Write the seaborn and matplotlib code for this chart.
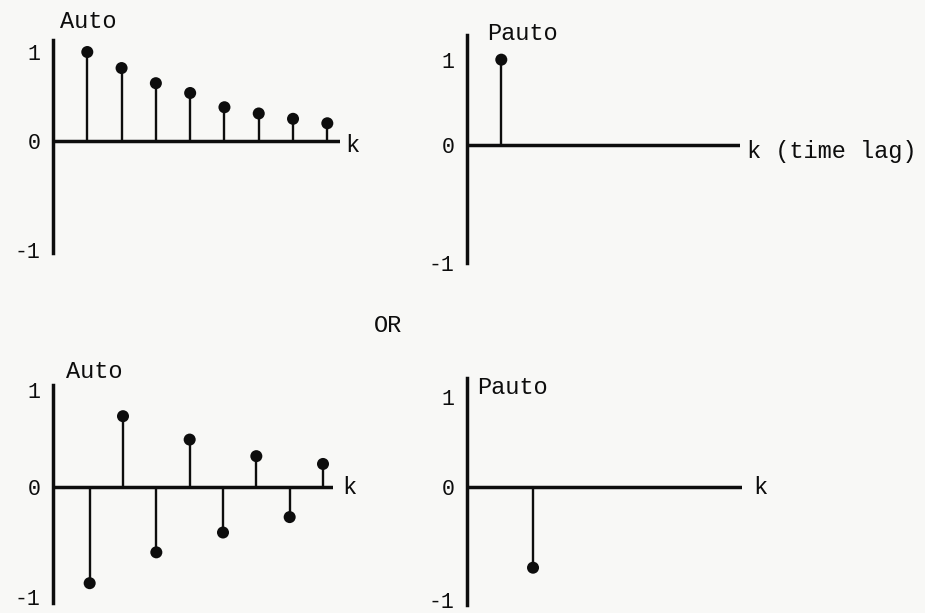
import numpy as np
import matplotlib.pyplot as plt
import seaborn as sns

# AR(1) with positive phi: ACF decays, PACF cuts off after lag 1
lags_acf = [1, 2, 3, 4, 5, 6, 7, 8]
acf_pos = [1.0, 0.82, 0.65, 0.54, 0.38, 0.31, 0.25, 0.20]
lags_pacf_pos = [1]
pacf_pos = [1.0]

# alternating case
acf_alt = [-0.87, 0.73, -0.59, 0.49, -0.41, 0.32, -0.27, 0.24]
lags_pacf_alt = [2]
pacf_alt = [-0.71]

yticks = [-1, 0, 1]
ytick_labels = ["-1", "0", "1"]

sns.set_theme(style="white")
plt.rcParams['font.family'] = ['Liberation Mono', 'DejaVu Sans Mono']

W, H = 925, 613
bg = "#f8f8f6"
fig = plt.figure(figsize=(W / 100, H / 100), dpi=100, facecolor=bg)


def px_axes(left, top, right, bottom):
    return fig.add_axes([left / W, 1 - bottom / H, (right - left) / W, (bottom - top) / H])


def px_text(x, y, s, **kw):
    fig.text(x / W, 1 - y / H, s, fontsize=17, color="#0d0d0d", va="center", **kw)


def stem_panel(ax, lags, vals, xlim, ylim, neg_ratio):
    # hand-drawn axes: the negative half is a bit longer than the positive one
    fwd = lambda y: np.where(y >= 0, y, y * neg_ratio)
    inv = lambda y: np.where(y >= 0, y, y / neg_ratio)
    ax.set_yscale("function", functions=(fwd, inv))
    ax.set_facecolor(bg)
    ax.vlines(lags, 0, vals, color="#0d0d0d", lw=1.7)
    sns.scatterplot(x=lags, y=vals, ax=ax, color="#0d0d0d", s=75, edgecolor="none", zorder=3)
    ax.axhline(0, color="#0d0d0d", lw=2.5, zorder=2)
    ax.set_xlim(*xlim)
    ax.set_ylim(*ylim)
    for s in ["top", "right", "bottom"]:
        ax.spines[s].set_visible(False)
    ax.spines["left"].set_color("#0d0d0d")
    ax.spines["left"].set_linewidth(2.5)
    ax.set_xticks([])
    ax.set_yticks(yticks)
    ax.set_yticklabels(ytick_labels, fontsize=15.5, color="#0d0d0d")
    ax.tick_params(axis="y", length=0, pad=9)


ax1 = px_axes(53, 40, 340, 253)
stem_panel(ax1, lags_acf, acf_pos, (0, 8.37), (-1.03, 1.135), 1.22)

ax2 = px_axes(467, 35, 740, 263)
stem_panel(ax2, lags_pacf_pos, pacf_pos, (0, 7.96), (-1.0, 1.29), 1.39)

ax3 = px_axes(53, 385, 333, 603)
stem_panel(ax3, lags_acf, acf_alt, (-0.1, 8.3), (-1.05, 1.05), 1.13)

ax4 = px_axes(467, 378, 742, 605)
stem_panel(ax4, lags_pacf_alt, pacf_alt, (0, 8.33), (-1.04, 1.21), 1.25)

px_text(60, 22, "Auto")
px_text(487, 33, "Pauto")
px_text(345, 146, "k")
px_text(747, 152, "k (time lag)")
px_text(374, 325, "OR")
px_text(66, 372, "Auto")
px_text(477, 388, "Pauto")
px_text(342, 488, "k")
px_text(753, 488, "k")

fig.savefig("out.png", dpi=100, facecolor=bg)
